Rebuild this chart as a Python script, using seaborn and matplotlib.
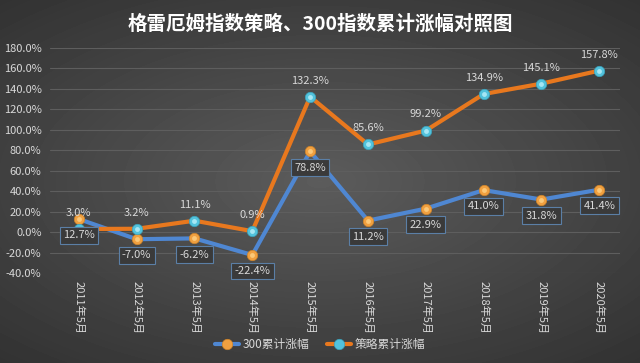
import numpy as np
import pandas as pd
import matplotlib
matplotlib.use("Agg")
import matplotlib.pyplot as plt
import seaborn as sns
from matplotlib.ticker import FuncFormatter


# ======================================================
# DATA
# ======================================================
months = ["2011年5月", "2012年5月", "2013年5月", "2014年5月", "2015年5月",
          "2016年5月", "2017年5月", "2018年5月", "2019年5月", "2020年5月"]
idx300 = [12.7, -7.0, -6.2, -22.4, 78.8, 11.2, 22.9, 41.0, 31.8, 41.4]
strategy = [3.0, 3.2, 11.1, 0.9, 132.3, 85.6, 99.2, 134.9, 145.1, 157.8]

title = "格雷厄姆指数策略、300指数累计涨幅对照图"
name300 = "300累计涨幅"
name_strategy = "策略累计涨幅"

df = pd.DataFrame({"month": months, name300: idx300, name_strategy: strategy})


# ======================================================
# STYLE
# ======================================================
sns.set_theme(style="dark")
plt.rcParams["font.family"] = ["Noto Sans CJK SC", "DejaVu Sans"]

text_col = "#d8d8d8"
blue = "#4f87d2"
orange = "#e8781e"
marker_orange = "#f0a040"
marker_cyan = "#52c2dc"

fig = plt.figure(figsize=(6.4, 3.63), dpi=100)

# radial dark gradient background
bg = fig.add_axes([0, 0, 1, 1], zorder=0)
yy, xx = np.mgrid[-1:1:363j, -1:1:640j]
r = np.sqrt((xx * 0.9) ** 2 + (yy * 1.0) ** 2)
bg.imshow(0.36 - 0.17 * np.clip(r, 0, 1.4) / 1.4, cmap="gray", vmin=0, vmax=1,
          aspect="auto", extent=[0, 1, 0, 1])
bg.axis("off")

ax = fig.add_axes([0.078, 0.248, 0.89, 0.62], zorder=1)
ax.set_facecolor("none")


# ======================================================
# LINES
# ======================================================
sns.lineplot(data=df, x="month", y=name300, ax=ax, color=blue, lw=3,
             marker="o", markersize=7.5, markerfacecolor=marker_orange,
             markeredgecolor="#d08428", markeredgewidth=0.5, sort=False,
             label=name300, zorder=3)
sns.lineplot(data=df, x="month", y=name_strategy, ax=ax, color=orange, lw=3,
             marker="o", markersize=7.5, markerfacecolor=marker_cyan,
             markeredgecolor="#3aa2bc", markeredgewidth=0.5, sort=False,
             label=name_strategy, zorder=3)

# soft highlights so markers look like spheres
ax.plot(months, idx300, ls="none", marker="o", ms=3.5, color="#fbc878",
        mec="none", zorder=4)
ax.plot(months, strategy, ls="none", marker="o", ms=3.5, color="#a6e6f4",
        mec="none", zorder=4)

# data labels
for i, v in enumerate(strategy):
    ax.annotate(f"{v:.1f}%", (i, v), xytext=(0, 8), textcoords="offset points",
                ha="center", va="bottom", fontsize=8, color=text_col, zorder=5)
for i, v in enumerate(idx300):
    ax.annotate(f"{v:.1f}%", (i, v), xytext=(0, -8), textcoords="offset points",
                ha="center", va="top", fontsize=8, color=text_col, zorder=5,
                bbox=dict(boxstyle="square,pad=0.3", fc="#3a3a3a",
                          ec="#5b7fa6", lw=0.8))


# ======================================================
# AXES
# ======================================================
ax.set_ylim(-40, 180)
ax.set_xlim(-0.5, 9.35)
ax.set_yticks(np.arange(-40, 181, 20))
ax.yaxis.set_major_formatter(FuncFormatter(lambda v, p: f"{v:.1f}%"))
ax.grid(axis="y", color="#5e5e5e", lw=0.8)
ax.grid(axis="x", visible=False)
for s in ax.spines.values():
    s.set_visible(False)
ax.set_xlabel("")
ax.set_ylabel("")
ax.tick_params(axis="y", colors=text_col, labelsize=8, length=0, pad=6)
ax.tick_params(axis="x", colors=text_col, labelsize=8, length=0, pad=6)
plt.setp(ax.get_xticklabels(), rotation=-90, va="top", ha="center")

fig.suptitle(title, x=0.5, y=0.96, fontsize=14, fontweight="bold", color="white")

handles, labels = ax.get_legend_handles_labels()
ax.get_legend().remove()
leg = fig.legend(handles, labels, loc="center", bbox_to_anchor=(0.5, 0.05),
                 ncol=2, frameon=False, fontsize=8.5, handlelength=2.0,
                 columnspacing=1.5, handletextpad=0.3)
for t in leg.get_texts():
    t.set_color(text_col)

fig.savefig("out.png", dpi=100)
